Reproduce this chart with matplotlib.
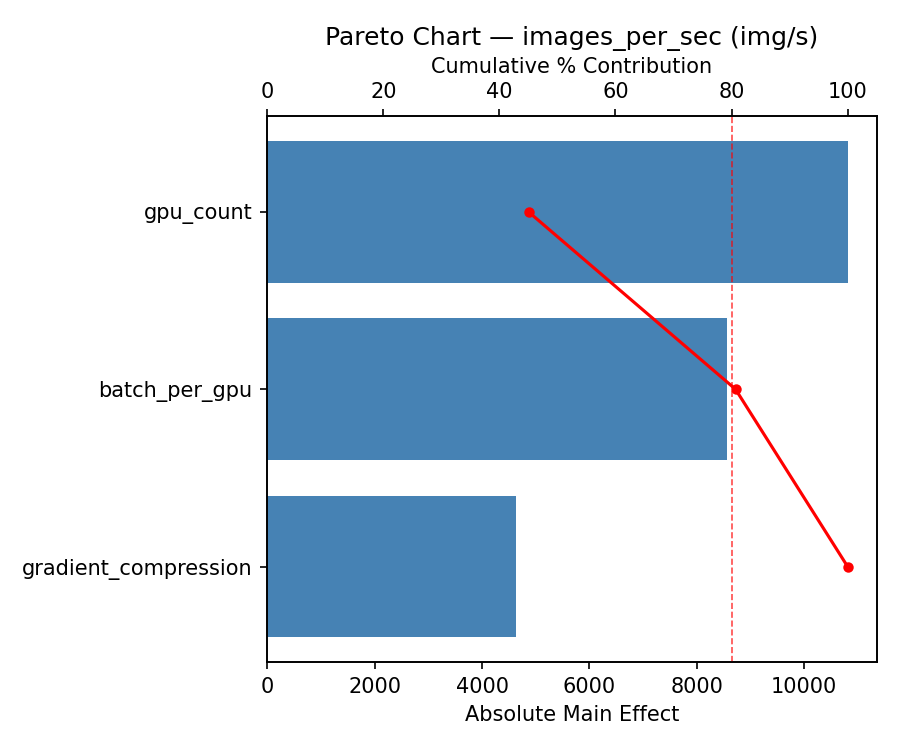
import numpy as np
import matplotlib
matplotlib.use("Agg")
import matplotlib.pyplot as plt

factors = ["gpu_count", "batch_per_gpu", "gradient_compression"]
effects = [10810, 8555, 4635]

total = sum(effects)
cum_pct = np.cumsum(effects) / total * 100

fig, ax = plt.subplots(figsize=(6, 5), dpi=150)
y = np.arange(len(factors))
ax.barh(y, effects, color="steelblue")
ax.set_yticks(y)
ax.set_yticklabels(factors)
ax.invert_yaxis()
ax.set_xlim(0, max(effects) * 1.05)
ax.set_xlabel("Absolute Main Effect")

ax2 = ax.twiny()
ax2.plot(cum_pct, y, "r-o", markersize=4)
ax2.axvline(80, color="red", linestyle="--", linewidth=0.8, alpha=0.7)
ax2.set_xlim(0, 105)
ax2.set_xlabel("Cumulative % Contribution")

ax.set_title("Pareto Chart — images_per_sec (img/s)", fontsize=12)
fig.subplots_adjust(left=0.297, right=0.974, top=0.845, bottom=0.117)
fig.savefig("out.png")
